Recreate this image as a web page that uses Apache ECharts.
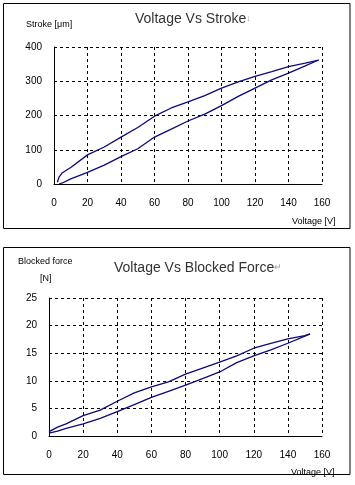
<!DOCTYPE html>
<html>
<head>
<meta charset="utf-8">
<script src="https://cdn.jsdelivr.net/npm/echarts@6.0.0/dist/echarts.min.js"></script>
<style>
  html, body { margin: 0; padding: 0; background: #fff; }
  #chart { width: 355px; height: 485px; }
</style>
</head>
<body>
<div id="chart"></div>
<script>
// stroke loop, voltage going up
const strokeUpV = [3, 5, 10, 20, 30, 40, 50, 60, 70, 80, 90, 100, 110, 120, 130, 140, 150, 158];
const strokeUp = [0, 3, 15, 34, 55, 80, 103, 137, 160, 184, 204, 229, 256, 280, 304, 324, 345, 362];
// stroke loop, voltage coming back down
const strokeDownV = [158, 150, 140, 130, 120, 110, 100, 90, 80, 70, 60, 50, 40, 30, 20, 10, 5, 3, 2];
const strokeDown = [362, 353, 343, 328, 314, 298, 280, 258, 240, 222, 198, 165, 137, 108, 85, 48, 33, 20, 5];

// blocked force loop
const forceUpV = [0, 5, 10, 20, 30, 40, 50, 60, 70, 80, 90, 100, 110, 120, 130, 140, 150, 153];
const forceUp = [0.5, 0.9, 1.4, 2.2, 3.2, 4.4, 5.7, 7.0, 8.1, 9.2, 10.4, 11.6, 13.3, 14.5, 15.6, 16.8, 18.1, 18.5];
const forceDownV = [153, 150, 140, 130, 120, 110, 100, 90, 80, 70, 60, 50, 40, 30, 20, 10, 5, 0];
const forceDown = [18.5, 18.2, 17.6, 16.8, 15.9, 14.5, 13.4, 12.3, 11.2, 9.8, 8.9, 7.8, 6.3, 4.7, 3.7, 2.2, 1.6, 0.8];

const voltTicks = [0, 160, 20];
const strokeTicks = [0, 400, 100];
const forceTicks = [0, 25, 5];

const pairs = (xs, ys) => xs.map((x, i) => [x, ys[i]]);

const lineColor = '#0a0a7a';
const font = 'Liberation Sans, Arial, sans-serif';

function xAxisFor(gridIndex) {
  return {
    type: 'value', gridIndex: gridIndex,
    min: voltTicks[0], max: voltTicks[1], interval: voltTicks[2],
    axisLine: { lineStyle: { color: '#000', width: 1 } },
    axisTick: { show: false },
    axisLabel: { color: '#000', fontSize: 10, fontFamily: font, margin: 14 },
    splitLine: { show: true, lineStyle: { color: '#000', type: [3, 3], width: 1 } }
  };
}
function yAxisFor(gridIndex, t) {
  return {
    type: 'value', gridIndex: gridIndex,
    min: t[0], max: t[1], interval: t[2],
    axisLine: { show: true, lineStyle: { color: '#000', width: 1 } },
    axisTick: { show: false },
    axisLabel: { color: '#000', fontSize: 10, fontFamily: font, margin: 12 },
    splitLine: { show: true, lineStyle: { color: '#000', type: [3, 3], width: 1 } }
  };
}
function loop(name, gi, data) {
  return {
    name: name, type: 'line', xAxisIndex: gi, yAxisIndex: gi,
    data: data, symbol: 'none', animation: false,
    lineStyle: { color: lineColor, width: 1.3 }
  };
}

const smallText = (text, x, y, align) => ({
  type: 'text', left: x, top: y,
  style: { text: text, fill: '#000', font: '9px ' + font, textAlign: align || 'left', textVerticalAlign: 'middle' }
});

const titleRich = {
  t: { fontSize: 14, fontWeight: 'normal', color: '#333', fontFamily: font },
  m: { fontSize: 9, fontWeight: 'normal', color: '#999', fontFamily: font }
};

const myChart = echarts.init(document.getElementById('chart'));
myChart.setOption({
  animation: false,
  title: [
    {
      text: '{t|Voltage Vs Stroke}{m|↓}', left: 135, top: 12, padding: 0,
      textStyle: { fontWeight: 'normal', rich: titleRich }
    },
    {
      text: '{t|Voltage Vs Blocked Force}{m|↵}', left: 114, top: 261, padding: 0,
      textStyle: { fontWeight: 'normal', rich: titleRich }
    }
  ],
  grid: [
    { left: 54, top: 47, width: 268, height: 137 },
    { left: 49, top: 298, width: 273, height: 138 }
  ],
  xAxis: [xAxisFor(0), xAxisFor(1)],
  yAxis: [yAxisFor(0, strokeTicks), yAxisFor(1, forceTicks)],
  series: [
    loop('stroke up', 0, pairs(strokeUpV, strokeUp)),
    loop('stroke down', 0, pairs(strokeDownV, strokeDown)),
    loop('force up', 1, pairs(forceUpV, forceUp)),
    loop('force down', 1, pairs(forceDownV, forceDown))
  ],
  graphic: [
    { type: 'rect', shape: { x: 3.5, y: 3.5, width: 346.5, height: 225 }, style: { fill: 'none', stroke: '#000', lineWidth: 1 } },
    { type: 'rect', shape: { x: 3.5, y: 247.5, width: 346.5, height: 227 }, style: { fill: 'none', stroke: '#000', lineWidth: 1 } },
    smallText('Stroke [μm]', 26, 20),
    smallText('Voltage [V]', 292, 217),
    smallText('Blocked force', 18, 257),
    smallText('[N]', 40, 274),
    smallText('Voltage [V]', 291, 468)
  ]
});
</script>
</body>
</html>
